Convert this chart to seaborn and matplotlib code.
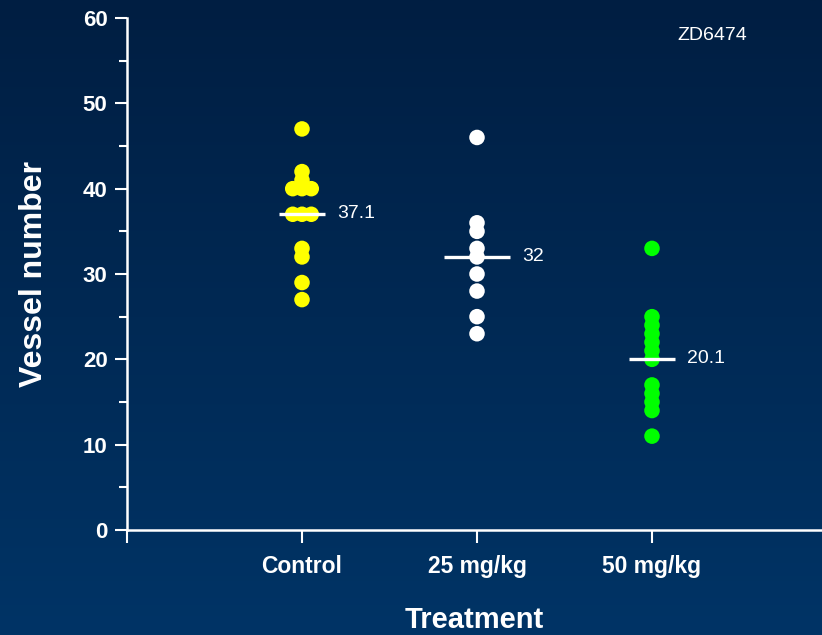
import numpy as np
import pandas as pd
import matplotlib
matplotlib.use("Agg")
import matplotlib.pyplot as plt
import seaborn as sns

# values
groups = ["Control", "25 mg/kg", "50 mg/kg"]
control = [47, 42, 41, 40, 40, 40, 37, 37, 37, 33, 32, 29, 27]
dose25 = [46, 36, 35, 33, 32, 30, 28, 25, 23]
dose50 = [33, 25, 24, 23, 22, 21, 20, 17, 16, 15, 14, 11]
colors = ["#ffff00", "#ffffff", "#00ff00"]
mean_halfwidth = [0.13, 0.19, 0.13]
label_gap = 0.07

rows = []
for i, (g, vals) in enumerate(zip(groups, [control, dose25, dose50])):
    s = pd.Series(vals)
    # spread tied values side by side (like the original dot plot)
    rank = s.groupby(s).cumcount()
    count = s.groupby(s).transform("size")
    off = (rank - (count - 1) / 2) * 0.053
    for v, o in zip(vals, off):
        rows.append({"group": g, "pos": i + 1 + o, "value": v})
df = pd.DataFrame(rows)

sns.set_style("white")
plt.rcParams["font.family"] = ["Liberation Sans", "DejaVu Sans"]

fig = plt.figure(figsize=(8.22, 6.35), dpi=100)

# background gradient
bg = fig.add_axes([0, 0, 1, 1], zorder=-1)
grad = np.linspace(0, 1, 256).reshape(-1, 1)
cmap = matplotlib.colors.LinearSegmentedColormap.from_list("bg", ["#001e42", "#003466"])
bg.imshow(grad, aspect="auto", cmap=cmap, extent=[0, 1, 0, 1], origin="upper")
bg.axis("off")

ax = fig.add_axes([127 / 822, 105 / 635, 1 - 127 / 822, 512 / 635])
ax.set_facecolor("none")

sns.scatterplot(data=df, x="pos", y="value", hue="group", palette=colors,
                s=125, linewidth=0, legend=False, ax=ax, zorder=3)

for i, (g, vals) in enumerate(zip(groups, [control, dose25, dose50])):
    m = np.mean(vals)
    x = i + 1
    hw = mean_halfwidth[i]
    ax.hlines(m, x - hw, x + hw, color="white", lw=2.4, zorder=4)
    txt = f"{m:.1f}".rstrip("0").rstrip(".")
    ax.text(x + hw + label_gap, m, txt, color="white", fontsize=14,
            va="center", ha="left")

ax.set_xlim(0, 695 / 175)
ax.set_ylim(0, 60)
ax.set_xticks([0, 1, 2, 3])
ax.set_xticklabels([""] + groups, fontsize=16.5, fontweight="bold", color="white")
ax.set_yticks(range(0, 61, 10))
ax.set_yticks(range(5, 60, 10), minor=True)
ax.set_yticklabels([str(v) for v in range(0, 61, 10)], fontsize=16,
                   fontweight="bold", color="white")
ax.tick_params(axis="x", which="major", direction="out", length=9, width=1.5,
               color="white", pad=9, bottom=True)
ax.tick_params(axis="y", which="major", direction="out", length=9, width=1.5,
               color="white", pad=5, left=True)
ax.tick_params(axis="y", which="minor", direction="out", length=6, width=1.5,
               color="white", left=True)

for side in ["top", "right"]:
    ax.spines[side].set_visible(False)
for side in ["left", "bottom"]:
    ax.spines[side].set_color("white")
    ax.spines[side].set_linewidth(1.8)

ax.set_xlabel("Treatment", fontsize=21, fontweight="bold", color="white", labelpad=20)
ax.set_ylabel("Vessel number", fontsize=23, fontweight="bold", color="white", labelpad=24)

fig.text(677 / 822, 1 - 35 / 635, "ZD6474", fontsize=14, color="white",
         va="center", ha="left")

fig.savefig("out.png", dpi=100)
